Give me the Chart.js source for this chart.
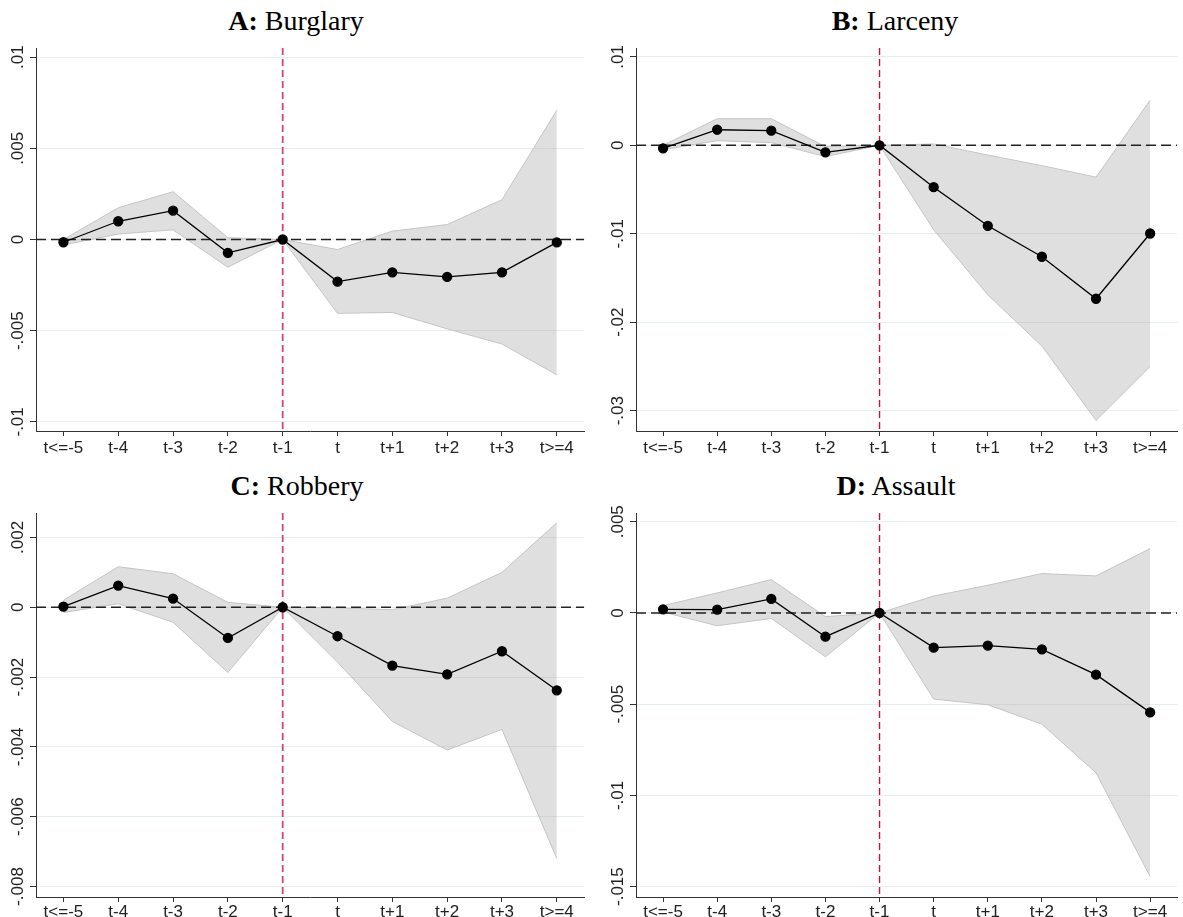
<!DOCTYPE html>
<html>
<head>
<meta charset="utf-8">
<script src="https://cdn.jsdelivr.net/npm/chart.js@4"></script>
<style>
  body { margin: 0; background: #fff; width: 1183px; height: 917px; position: relative; overflow: hidden; }
  canvas { position: absolute; }
  .ttl { position: absolute; width: 320px; text-align: center; white-space: nowrap;
         font: 28px "Liberation Serif", "Times New Roman", serif; line-height: 28px; color: #000; }
</style>
</head>
<body>
<div class="ttl" style="left:136px;top:7px"><b>A:</b> Burglary</div>
<div class="ttl" style="left:735px;top:7px"><b>B:</b> Larceny</div>
<div class="ttl" style="left:137px;top:472px"><b>C:</b> Robbery</div>
<div class="ttl" style="left:736px;top:472px"><b>D:</b> Assault</div>

<canvas id="cA" style="left:0;top:40px" width="590" height="415"></canvas>
<canvas id="cB" style="left:590px;top:40px" width="593" height="415"></canvas>
<canvas id="cC" style="left:0;top:505px" width="590" height="412"></canvas>
<canvas id="cD" style="left:590px;top:505px" width="593" height="412"></canvas>

<script>
const periods = ["t<=-5", "t-4", "t-3", "t-2", "t-1", "t", "t+1", "t+2", "t+3", "t>=4"];
const eventIdx = 4; // t-1
const axisFont = '"Liberation Sans Narrow", "Arial Narrow", "Liberation Sans", Arial, sans-serif';

// A: Burglary
const burglaryEst = [-0.00015, 0.0010, 0.00158, -0.00073, 0, -0.00231, -0.0018, -0.00205, -0.0018, -0.00016];
const burglaryHi  = [0.0000, 0.00174, 0.00262, 0.0001, 0, -0.00055, 0.00046, 0.00082, 0.00218, 0.00709];
const burglaryLo  = [-0.0003, 0.0003, 0.00053, -0.00152, 0, -0.00405, -0.0040, -0.0049, -0.00573, -0.00742];
const burglaryTicks = [-0.01, -0.005, 0, 0.005, 0.01];
const burglaryTickLabels = ["-.01", "-.005", "0", ".005", ".01"];

// B: Larceny
const larcenyEst = [-0.00034, 0.00176, 0.00165, -0.00079, 0, -0.00474, -0.0091, -0.0126, -0.01735, -0.00997];
const larcenyHi  = [0.0000, 0.0030, 0.0030, -0.00015, 0, 0.00015, -0.0011, -0.0023, -0.0036, 0.0051];
const larcenyLo  = [-0.0005, 0.00052, 0.0003, -0.00128, 0, -0.00956, -0.0169, -0.0227, -0.0311, -0.0250];
const larcenyTicks = [-0.03, -0.02, -0.01, 0, 0.01];
const larcenyTickLabels = ["-.03", "-.02", "-.01", "0", ".01"];

// C: Robbery
const robberyEst = [0.00002, 0.00062, 0.00025, -0.00088, 0, -0.00083, -0.00167, -0.00192, -0.00126, -0.00238];
const robberyHi  = [0.0002, 0.00116, 0.00096, 0.00014, 0, -0.00002, -0.00007, 0.00026, 0.0010, 0.00242];
const robberyLo  = [-0.00015, 0.0001, -0.00043, -0.00187, 0, -0.00157, -0.00327, -0.00409, -0.0035, -0.0072];
const robberyTicks = [-0.008, -0.006, -0.004, -0.002, 0, 0.002];
const robberyTickLabels = ["-.008", "-.006", "-.004", "-.002", "0", ".002"];

// D: Assault
const assaultEst = [0.0002, 0.00018, 0.00077, -0.0013, 0, -0.0019, -0.00179, -0.0020, -0.00338, -0.00545];
const assaultHi  = [0.0004, 0.0011, 0.00183, -0.0002, 0, 0.00093, 0.00152, 0.00216, 0.00203, 0.00353];
const assaultLo  = [0.00005, -0.0007, -0.0003, -0.0024, 0, -0.00472, -0.00503, -0.0061, -0.00876, -0.01445];
const assaultTicks = [-0.015, -0.01, -0.005, 0, 0.005];
const assaultTickLabels = ["-.015", "-.01", "-.005", "0", ".005"];

// zero line + event line, drawn after the band but under the estimates
const refLines = {
  id: "refLines",
  afterDatasetDraw(chart, args, opts) {
    if (args.index !== 1) return;
    const { ctx, chartArea: a, scales: { x, y } } = chart;
    ctx.save();
    ctx.beginPath();
    ctx.rect(a.left, a.top, a.width, a.height);
    ctx.clip();
    const y0 = y.getPixelForValue(0);
    ctx.setLineDash([10, 5]);
    ctx.lineWidth = 1.4;
    ctx.strokeStyle = "#222";
    ctx.beginPath();
    ctx.moveTo(a.left, y0);
    ctx.lineTo(a.right, y0);
    ctx.stroke();
    const xe = x.getPixelForValue(eventIdx);
    ctx.setLineDash([7, 4]);
    ctx.lineWidth = opts.redWidth;
    ctx.strokeStyle = opts.red;
    ctx.beginPath();
    ctx.moveTo(xe, a.top);
    ctx.lineTo(xe, a.bottom);
    ctx.stroke();
    ctx.restore();
  }
};

// rotated y tick labels (Stata style)
const yLabels = {
  id: "yLabels",
  afterDraw(chart, args, opts) {
    const { ctx, chartArea: a, scales: { y } } = chart;
    ctx.save();
    ctx.font = "17px " + axisFont;
    ctx.fillStyle = "#222";
    ctx.textAlign = "center";
    ctx.textBaseline = "middle";
    opts.values.forEach((v, i) => {
      ctx.save();
      ctx.translate(a.left - 18, y.getPixelForValue(v));
      ctx.rotate(-Math.PI / 2);
      ctx.fillText(opts.labels[i], 0, 0);
      ctx.restore();
    });
    ctx.restore();
  }
};

function panel(id, est, hi, lo, ticks, tickLabels, yMin, yMax, yWidth, xHeight, xPad, red, redWidth) {
  new Chart(document.getElementById(id).getContext("2d"), {
    type: "line",
    data: {
      labels: periods,
      datasets: [
        {
          data: est,
          borderColor: "#000",
          borderWidth: 1.3,
          pointRadius: 4.5,
          pointBackgroundColor: "#000",
          pointBorderColor: "#000",
          tension: 0,
          fill: false
        },
        {
          data: hi,
          borderColor: "#c4c4c4",
          borderWidth: 1,
          pointRadius: 0,
          tension: 0,
          fill: false
        },
        {
          data: lo,
          borderColor: "#c4c4c4",
          borderWidth: 1,
          pointRadius: 0,
          tension: 0,
          fill: 1,
          backgroundColor: "rgba(170,170,170,0.38)"
        }
      ]
    },
    options: {
      responsive: false,
      animation: false,
      layout: { padding: { top: 8, right: 1, left: 0, bottom: 0 } },
      plugins: {
        legend: { display: false },
        tooltip: { enabled: false },
        refLines: { red: red, redWidth: redWidth },
        yLabels: { values: ticks, labels: tickLabels }
      },
      scales: {
        x: {
          type: "category",
          offset: true,
          grid: { drawOnChartArea: false, offset: false, tickLength: 5, tickColor: "#333" },
          border: { color: "#333", width: 1 },
          ticks: {
            color: "#222",
            padding: xPad,
            maxRotation: 0,
            autoSkip: false,
            font: { family: axisFont, size: 17 }
          },
          afterFit: s => { s.height = xHeight; }
        },
        y: {
          min: yMin,
          max: yMax,
          afterBuildTicks: s => { s.ticks = ticks.map(v => ({ value: v })); },
          grid: { color: "#e4edef", lineWidth: 1, tickLength: 6, tickColor: "#333" },
          border: { color: "#333", width: 1 },
          ticks: { display: false },
          afterFit: s => { s.width = yWidth; }
        }
      }
    },
    plugins: [refLines, yLabels]
  });
}

panel("cA", burglaryEst, burglaryHi, burglaryLo, burglaryTicks, burglaryTickLabels, -0.0105, 0.0105, 36, 24, 2, "#d9416f", 1.8);
panel("cB", larcenyEst, larcenyHi, larcenyLo, larcenyTicks, larcenyTickLabels, -0.0323, 0.011, 46, 24, 2, "#c8123a", 1.4);
panel("cC", robberyEst, robberyHi, robberyLo, robberyTicks, robberyTickLabels, -0.0083, 0.0027, 36, 20, 0, "#d9416f", 1.8);
panel("cD", assaultEst, assaultHi, assaultLo, assaultTicks, assaultTickLabels, -0.01557, 0.00548, 46, 20, 0, "#c8123a", 1.4);
</script>
</body>
</html>
